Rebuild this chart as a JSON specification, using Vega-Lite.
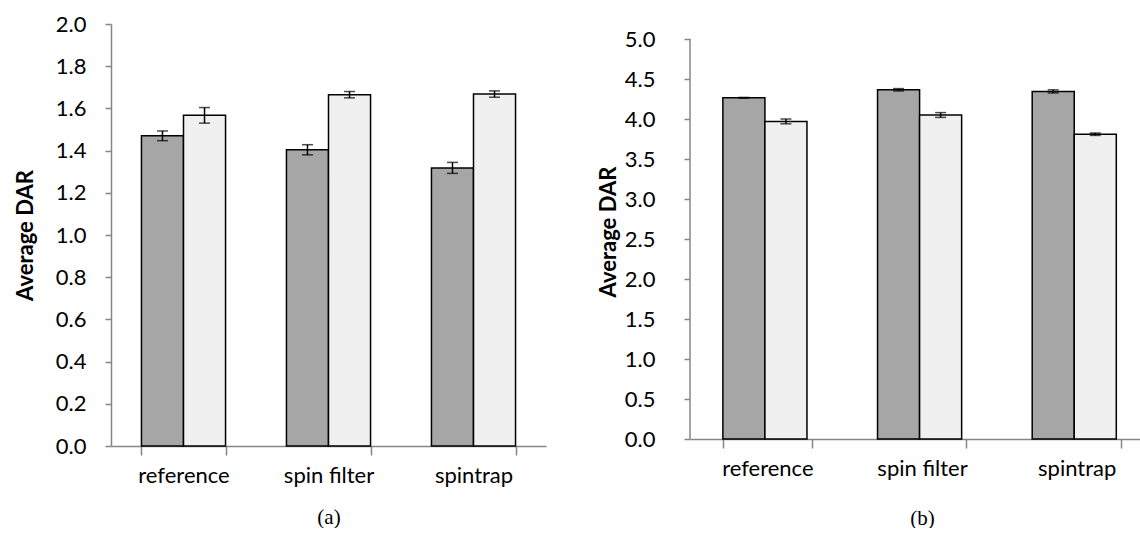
{
  "$schema": "https://vega.github.io/schema/vega-lite/v6.json",
  "padding": {"left": 14, "top": 13, "right": 0, "bottom": 0},
  "spacing": 51,
  "config": {
    "view": {"stroke": null},
    "font": "Lato",
    "axis": {
      "domainColor": "#868686", "domainWidth": 1.5,
      "tickColor": "#868686", "tickWidth": 1.5,
      "labelColor": "black", "labelFontSize": 22, "labelFont": "Lato",
      "titleColor": "black", "titleFontSize": 22, "titleFont": "Lato",
      "grid": false, "labelOverlap": false
    },
    "axisX": {"tickBand": "extent", "tickSize": 9, "labelAngle": 0, "labelPadding": 10, "titleFont": "Liberation Serif", "titleFontWeight": "normal", "titleFontSize": 21},
    "axisY": {"tickSize": 6, "titleFontWeight": "bold"}
  },
  "datasets": {
    "a": [
      {"condition": "reference", "series": "group 1", "mean": 1.47, "lo": 1.447, "hi": 1.493},
      {"condition": "reference", "series": "group 2", "mean": 1.567, "lo": 1.53, "hi": 1.604},
      {"condition": "spin filter", "series": "group 1", "mean": 1.404, "lo": 1.38, "hi": 1.428},
      {"condition": "spin filter", "series": "group 2", "mean": 1.665, "lo": 1.65, "hi": 1.68},
      {"condition": "spintrap", "series": "group 1", "mean": 1.318, "lo": 1.292, "hi": 1.344},
      {"condition": "spintrap", "series": "group 2", "mean": 1.668, "lo": 1.653, "hi": 1.683}
    ],
    "b": [
      {"condition": "reference", "series": "group 1", "mean": 4.265, "lo": 4.26, "hi": 4.27},
      {"condition": "reference", "series": "group 2", "mean": 3.97, "lo": 3.94, "hi": 4.0},
      {"condition": "spin filter", "series": "group 1", "mean": 4.365, "lo": 4.35, "hi": 4.38},
      {"condition": "spin filter", "series": "group 2", "mean": 4.05, "lo": 4.02, "hi": 4.08},
      {"condition": "spintrap", "series": "group 1", "mean": 4.345, "lo": 4.325, "hi": 4.365},
      {"condition": "spintrap", "series": "group 2", "mean": 3.81, "lo": 3.795, "hi": 3.825}
    ],
    "baxis": [{"from": 0, "to": 5}]
  },
  "hconcat": [
    {
      "width": 435, "height": 422,
      "data": {"name": "a"},
      "encoding": {
        "x": {"field": "condition", "type": "nominal", "sort": ["reference", "spin filter", "spintrap"],
              "scale": {"paddingInner": 0.42, "paddingOuter": 0.21},
              "axis": {"title": "(a)", "titlePadding": 20}},
        "xOffset": {"field": "series", "type": "nominal", "sort": ["group 1", "group 2"], "scale": {"paddingInner": 0, "paddingOuter": 0}}
      },
      "layer": [
        {"mark": {"type": "bar", "stroke": "black", "strokeWidth": 1.5},
         "encoding": {
           "y": {"field": "mean", "type": "quantitative", "scale": {"domain": [0, 2]},
                 "axis": {"title": "Average DAR", "values": [0, 0.2, 0.4, 0.6, 0.8, 1.0, 1.2, 1.4, 1.6, 1.8, 2.0], "format": ".1f", "labelPadding": 19, "titlePadding": 18}},
           "fill": {"field": "series", "type": "nominal", "scale": {"domain": ["group 1", "group 2"], "range": ["#a6a6a6", "#f0f0f0"]}, "legend": null}
         }},
        {"mark": {"type": "rule", "color": "black", "strokeWidth": 1.5},
         "encoding": {"y": {"field": "lo", "type": "quantitative", "axis": {"title": "Average DAR", "values": [0, 0.2, 0.4, 0.6, 0.8, 1.0, 1.2, 1.4, 1.6, 1.8, 2.0], "format": ".1f", "labelPadding": 19, "titlePadding": 18}}, "y2": {"field": "hi"}}},
        {"mark": {"type": "tick", "color": "black", "thickness": 1.5, "size": 11, "orient": "horizontal"},
         "encoding": {"y": {"field": "lo", "type": "quantitative", "axis": {"title": "Average DAR", "values": [0, 0.2, 0.4, 0.6, 0.8, 1.0, 1.2, 1.4, 1.6, 1.8, 2.0], "format": ".1f", "labelPadding": 19, "titlePadding": 18}}}},
        {"mark": {"type": "tick", "color": "black", "thickness": 1.5, "size": 11, "orient": "horizontal"},
         "encoding": {"y": {"field": "hi", "type": "quantitative", "axis": {"title": "Average DAR", "values": [0, 0.2, 0.4, 0.6, 0.8, 1.0, 1.2, 1.4, 1.6, 1.8, 2.0], "format": ".1f", "labelPadding": 19, "titlePadding": 18}}}}
      ]
    },
    {
      "width": 464, "height": 415,
      "resolve": {"scale": {"x": "independent"}, "axis": {"x": "independent"}},
      "layer": [
        {
          "data": {"name": "b"},
          "encoding": {
            "x": {"field": "condition", "type": "nominal", "sort": ["reference", "spin filter", "spintrap"],
                  "scale": {"paddingInner": 0.425, "paddingOuter": 0.2125},
                  "axis": {"title": "(b)", "titlePadding": 28, "orient": "bottom"}},
            "xOffset": {"field": "series", "type": "nominal", "sort": ["group 1", "group 2"], "scale": {"paddingInner": 0, "paddingOuter": 0}}
          },
          "layer": [
            {"mark": {"type": "bar", "stroke": "black", "strokeWidth": 1.5},
             "encoding": {
               "y": {"field": "mean", "type": "quantitative", "scale": {"domain": [0, 5.1875], "nice": false},
                     "axis": {"title": "Average DAR", "domain": false, "values": [0, 0.5, 1.0, 1.5, 2.0, 2.5, 3.0, 3.5, 4.0, 4.5, 5.0], "format": ".1f", "labelPadding": 29, "titlePadding": 4}},
               "fill": {"field": "series", "type": "nominal", "scale": {"domain": ["group 1", "group 2"], "range": ["#a6a6a6", "#f0f0f0"]}, "legend": null}
             }},
            {"mark": {"type": "rule", "color": "black", "strokeWidth": 1.5},
             "encoding": {
               "y": {"field": "lo", "type": "quantitative", "axis": {"title": "Average DAR", "domain": false, "values": [0, 0.5, 1.0, 1.5, 2.0, 2.5, 3.0, 3.5, 4.0, 4.5, 5.0], "format": ".1f", "labelPadding": 29, "titlePadding": 4}},
               "y2": {"field": "hi"}}},
            {"mark": {"type": "tick", "color": "black", "thickness": 1.5, "size": 11, "orient": "horizontal"},
             "encoding": {
               "y": {"field": "lo", "type": "quantitative", "axis": {"title": "Average DAR", "domain": false, "values": [0, 0.5, 1.0, 1.5, 2.0, 2.5, 3.0, 3.5, 4.0, 4.5, 5.0], "format": ".1f", "labelPadding": 29, "titlePadding": 4}}}},
            {"mark": {"type": "tick", "color": "black", "thickness": 1.5, "size": 11, "orient": "horizontal"},
             "encoding": {
               "y": {"field": "hi", "type": "quantitative", "axis": {"title": "Average DAR", "domain": false, "values": [0, 0.5, 1.0, 1.5, 2.0, 2.5, 3.0, 3.5, 4.0, 4.5, 5.0], "format": ".1f", "labelPadding": 29, "titlePadding": 4}}}}
          ]
        },
        {"data": {"name": "baxis"},
         "mark": {"type": "rule", "color": "#868686", "strokeWidth": 1.5},
         "encoding": {
           "x": {"datum": 0, "type": "quantitative", "scale": {"domain": [0, 1]}, "axis": null},
           "y": {"field": "from", "type": "quantitative", "axis": {"title": "Average DAR", "domain": false, "values": [0, 0.5, 1.0, 1.5, 2.0, 2.5, 3.0, 3.5, 4.0, 4.5, 5.0], "format": ".1f", "labelPadding": 29, "titlePadding": 4}},
           "y2": {"field": "to"}}}
      ]
    }
  ]
}
